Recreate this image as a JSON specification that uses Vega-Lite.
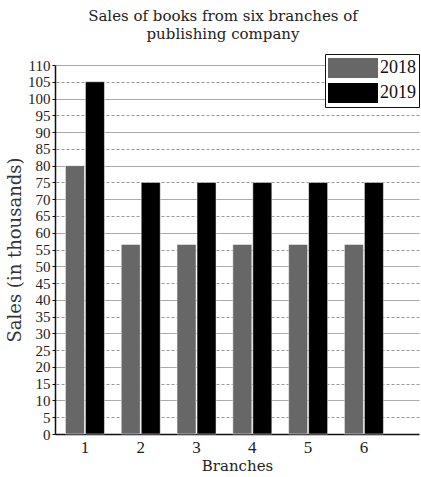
{
  "$schema": "https://vega.github.io/schema/vega-lite/v6.json",
  "width": 364,
  "height": 369,
  "padding": {"left": 6, "top": 8, "right": 0, "bottom": 3},
  "background": "white",
  "config": {
    "view": {"stroke": null},
    "font": "Liberation Serif"
  },
  "title": {
    "text": ["Sales of books from six branches of", "publishing company"],
    "anchor": "middle",
    "frame": "bounds",
    "dx": 10,
    "font": "DejaVu Serif",
    "fontSize": 15,
    "fontWeight": "normal",
    "color": "#222222",
    "lineHeight": 18,
    "offset": 12
  },
  "data": {
    "values": [
      {"branch": "1", "year": "2018", "sales": 80},
      {"branch": "1", "year": "2019", "sales": 105},
      {"branch": "2", "year": "2018", "sales": 56.5},
      {"branch": "2", "year": "2019", "sales": 75},
      {"branch": "3", "year": "2018", "sales": 56.5},
      {"branch": "3", "year": "2019", "sales": 75},
      {"branch": "4", "year": "2018", "sales": 56.5},
      {"branch": "4", "year": "2019", "sales": 75},
      {"branch": "5", "year": "2018", "sales": 56.5},
      {"branch": "5", "year": "2019", "sales": 75},
      {"branch": "6", "year": "2018", "sales": 56.5},
      {"branch": "6", "year": "2019", "sales": 75}
    ]
  },
  "encoding": {
    "x": {
      "field": "branch",
      "type": "nominal",
      "scale": {"paddingInner": 0, "paddingOuter": 0.262, "align": 0.07},
      "axis": {
        "title": "Branches",
        "titleFont": "DejaVu Serif",
        "titleFontSize": 15,
        "titleFontWeight": "normal",
        "titleColor": "#222222",
        "titlePadding": 3,
        "labelAngle": 0,
        "labelFontSize": 17,
        "labelColor": "#222222",
        "labelPadding": 5,
        "ticks": false,
        "domainColor": "#111111",
        "domainWidth": 1.5,
        "grid": false
      }
    },
    "xOffset": {
      "field": "year",
      "type": "nominal",
      "scale": {"paddingInner": 0.05, "paddingOuter": 0.42}
    }
  },
  "layer": [
    {
      "mark": {"type": "bar", "opacity": 0},
      "encoding": {
        "y": {
          "field": "sales",
          "type": "quantitative",
          "scale": {"domain": [0, 110], "nice": false},
          "axis": {
            "orient": "right",
            "title": null,
            "values": [10, 20, 30, 40, 50, 60, 70, 80, 90, 100, 110],
            "labels": false,
            "ticks": false,
            "domain": false,
            "grid": true,
            "gridColor": "#aaaaaa",
            "gridWidth": 1
          }
        }
      }
    },
    {
      "mark": {"type": "bar", "opacity": 0},
      "encoding": {
        "y": {
          "field": "sales",
          "type": "quantitative",
          "scale": {"domain": [0, 110], "nice": false},
          "axis": {
            "orient": "right",
            "title": null,
            "values": [5, 15, 25, 35, 45, 55, 65, 75, 85, 95, 105],
            "labels": false,
            "ticks": false,
            "domain": false,
            "grid": true,
            "gridColor": "#999999",
            "gridDash": [3, 2],
            "gridWidth": 1
          }
        }
      }
    },
    {
      "mark": {"type": "bar", "stroke": "white", "strokeWidth": 0.5},
      "encoding": {
        "y": {
          "field": "sales",
          "type": "quantitative",
          "scale": {"domain": [0, 110], "nice": false},
          "axis": {
            "orient": "left",
            "title": "Sales (in thousands)",
            "titleFont": "DejaVu Serif",
            "titleFontSize": 18,
            "titleFontWeight": "normal",
            "titleColor": "#333333",
            "titlePadding": 3,
            "values": [0, 5, 10, 15, 20, 25, 30, 35, 40, 45, 50, 55, 60, 65, 70, 75, 80, 85, 90, 95, 100, 105, 110],
            "labelFontSize": 15,
            "labelColor": "#222222",
            "labelPadding": 2,
            "labelOverlap": false,
            "ticks": true,
            "tickSize": 3,
            "tickColor": "#111111",
            "domainColor": "#111111",
            "domainWidth": 1.5,
            "grid": false
          }
        },
        "color": {
          "field": "year",
          "type": "nominal",
          "scale": {"domain": ["2018", "2019"], "range": ["#676767", "#000000"]},
          "legend": {
            "title": null,
            "orient": "none",
            "legendX": 270,
            "legendY": -11,
            "strokeColor": "#111111",
            "fillColor": "white",
            "padding": 3,
            "rowPadding": 3,
            "clipHeight": 22,
            "symbolType": "M-1,-0.4H1V0.4H-1Z",
            "symbolSize": 2500,
            "symbolStrokeWidth": 0,
            "symbolOpacity": 1,
            "labelFontSize": 18,
            "labelColor": "#111111",
            "labelOffset": 2,
            "encode": {"legend": {"update": {"strokeWidth": {"value": 2}}}}
          }
        }
      }
    }
  ],
  "resolve": {"axis": {"y": "independent"}}
}
